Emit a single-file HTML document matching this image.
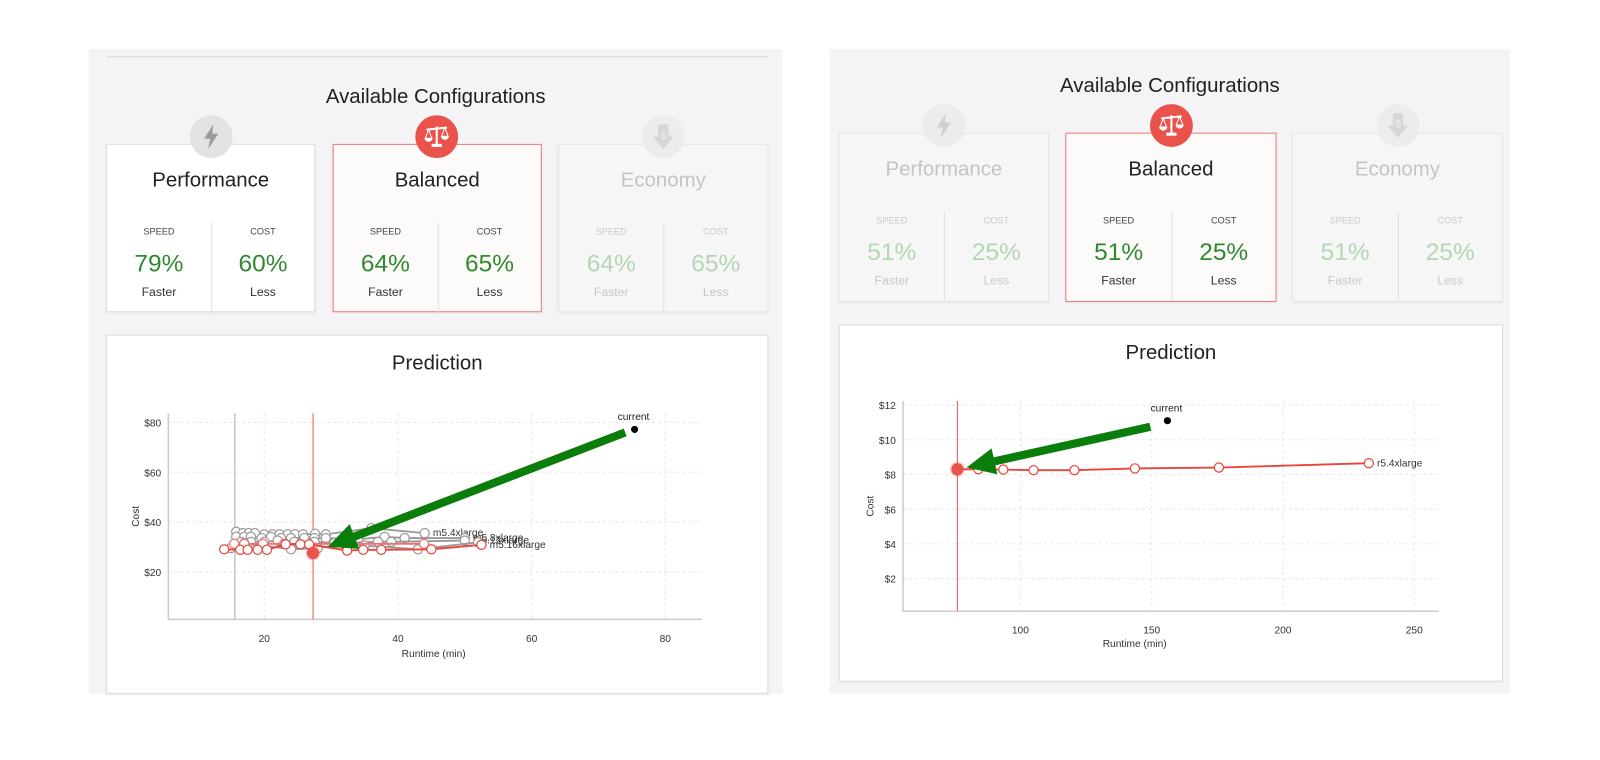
<!DOCTYPE html>
<html><head><meta charset="utf-8">
<style>
*{box-sizing:border-box;margin:0;padding:0}
body{width:1600px;height:745px;background:#fff;font-family:"Liberation Sans",sans-serif;position:relative;overflow:hidden}
#wrap{position:absolute;left:0;top:0;width:1600px;height:745px;transform:scale(1.0204);transform-origin:0 0}
.panel{position:absolute;background:#f4f4f6}
.abs{position:absolute}
.title{position:absolute;font-size:20px;color:#222;text-align:center;white-space:nowrap}
.card{position:absolute;background:#fff;border:1px solid #dcdcdc;box-shadow:0 1px 2px rgba(0,0,0,.08)}
.card.sel{background:#fdfafa;border-color:#ee7a74}
.card.dim{background:#f6f6f7;border-color:#e6e6e6}
.ctitle{position:absolute;left:0;right:0;top:24px;text-align:center;font-size:20px;color:#222}
.dim .ctitle{color:#c4c4c4}
.col{position:absolute;top:76px;width:50%;height:88px;text-align:center}
.col.r{left:50%;border-left:1px solid #e0e0e0}
.lab{font-size:9px;color:#444;margin-top:4px}
.pct{font-size:24px;color:#2f8a2f;margin-top:13px}
.sub{font-size:12px;color:#333;margin-top:6px}
.dim .lab,.dim .sub{color:#c8c8c8}
.dim .pct{color:#b5d6b5}
.icon{position:absolute;width:42px;height:42px;border-radius:50%;display:flex;align-items:center;justify-content:center}
.pred{position:absolute;background:#fff;border:1px solid #dcdcdc;box-shadow:0 1px 2px rgba(0,0,0,.08)}
svg text{font-family:"Liberation Sans",sans-serif}
</style></head><body>
<div id="wrap">
<div class="panel" style="left:87px;top:48px;width:680px;height:632px"></div>
<div class="abs" style="left:104px;top:55px;width:649px;height:1px;background:#dcdcdc"></div>
<div class="title" style="left:87px;width:680px;top:84px">Available Configurations</div>

<div class="panel" style="left:813px;top:48px;width:667px;height:632px"></div>
<div class="title" style="left:813px;width:667px;top:73px">Available Configurations</div>

<div class="card" style="left:104px;top:141px;width:205px;height:165px">
 <div class="ctitle">Performance</div>
 <div class="col"><div class="lab">SPEED</div><div class="pct">79%</div><div class="sub">Faster</div></div>
 <div class="col r"><div class="lab">COST</div><div class="pct">60%</div><div class="sub">Less</div></div>
</div>
<div class="card sel" style="left:326px;top:141px;width:205px;height:165px">
 <div class="ctitle">Balanced</div>
 <div class="col"><div class="lab">SPEED</div><div class="pct">64%</div><div class="sub">Faster</div></div>
 <div class="col r"><div class="lab">COST</div><div class="pct">65%</div><div class="sub">Less</div></div>
</div>
<div class="card dim" style="left:547px;top:141px;width:206px;height:165px">
 <div class="ctitle">Economy</div>
 <div class="col"><div class="lab">SPEED</div><div class="pct">64%</div><div class="sub">Faster</div></div>
 <div class="col r"><div class="lab">COST</div><div class="pct">65%</div><div class="sub">Less</div></div>
</div>
<div class="icon" style="left:186px;top:113px;background:#e2e2e4"><svg width="20" height="26" viewBox="0 0 20 26"><path d="M12 1 L3 15 H9 L7 25 L17 10 H11 Z" fill="#9a9a9a"/></svg></div>
<div class="icon" style="left:407px;top:113px;background:#e9534b"><svg width="26" height="24" viewBox="0 0 26 24"><g fill="#fff" stroke="#fff"><line x1="3" y1="5" x2="23" y2="3" stroke-width="2"/><line x1="13" y1="2" x2="13" y2="20" stroke-width="2"/><rect x="8" y="19" width="10" height="3" stroke="none"/><path d="M1 13 A4 4 0 0 0 9 13 Z" stroke="none"/><path d="M17 11 A4 4 0 0 0 25 11 Z" stroke="none"/><line x1="5" y1="5" x2="2" y2="13" stroke-width="1"/><line x1="5" y1="5" x2="8" y2="13" stroke-width="1"/><line x1="21" y1="3" x2="18" y2="11" stroke-width="1"/><line x1="21" y1="3" x2="24" y2="11" stroke-width="1"/></g></svg></div>
<div class="icon" style="left:629px;top:113px;background:#ececee"><svg width="22" height="26" viewBox="0 0 22 26"><path d="M6 1 H16 V13 H21 L11 25 L1 13 H6 Z" fill="#d6d6d6"/><text x="11" y="15" font-size="11" text-anchor="middle" fill="#ececee">$</text></svg></div>

<div class="card dim" style="left:822px;top:130px;width:206px;height:166px">
 <div class="ctitle">Performance</div>
 <div class="col"><div class="lab">SPEED</div><div class="pct">51%</div><div class="sub">Faster</div></div>
 <div class="col r"><div class="lab">COST</div><div class="pct">25%</div><div class="sub">Less</div></div>
</div>
<div class="card sel" style="left:1044px;top:130px;width:207px;height:166px">
 <div class="ctitle">Balanced</div>
 <div class="col"><div class="lab">SPEED</div><div class="pct">51%</div><div class="sub">Faster</div></div>
 <div class="col r"><div class="lab">COST</div><div class="pct">25%</div><div class="sub">Less</div></div>
</div>
<div class="card dim" style="left:1266px;top:130px;width:207px;height:166px">
 <div class="ctitle">Economy</div>
 <div class="col"><div class="lab">SPEED</div><div class="pct">51%</div><div class="sub">Faster</div></div>
 <div class="col r"><div class="lab">COST</div><div class="pct">25%</div><div class="sub">Less</div></div>
</div>
<div class="icon" style="left:904px;top:102px;background:#ececee"><svg width="20" height="26" viewBox="0 0 20 26"><path d="M12 1 L3 15 H9 L7 25 L17 10 H11 Z" fill="#d0d0d0"/></svg></div>
<div class="icon" style="left:1127px;top:102px;background:#e9534b"><svg width="26" height="24" viewBox="0 0 26 24"><g fill="#fff" stroke="#fff"><line x1="3" y1="5" x2="23" y2="3" stroke-width="2"/><line x1="13" y1="2" x2="13" y2="20" stroke-width="2"/><rect x="8" y="19" width="10" height="3" stroke="none"/><path d="M1 13 A4 4 0 0 0 9 13 Z" stroke="none"/><path d="M17 11 A4 4 0 0 0 25 11 Z" stroke="none"/><line x1="5" y1="5" x2="2" y2="13" stroke-width="1"/><line x1="5" y1="5" x2="8" y2="13" stroke-width="1"/><line x1="21" y1="3" x2="18" y2="11" stroke-width="1"/><line x1="21" y1="3" x2="24" y2="11" stroke-width="1"/></g></svg></div>
<div class="icon" style="left:1349px;top:102px;background:#ececee"><svg width="22" height="26" viewBox="0 0 22 26"><path d="M6 1 H16 V13 H21 L11 25 L1 13 H6 Z" fill="#d6d6d6"/><text x="11" y="15" font-size="11" text-anchor="middle" fill="#ececee">$</text></svg></div>

<div class="pred" style="left:104px;top:328px;width:649px;height:352px"></div>
<div class="title" style="left:104px;width:649px;top:345px">Prediction</div>
<div class="pred" style="left:822px;top:318px;width:651px;height:350px"></div>
<div class="title" style="left:822px;width:651px;top:335px">Prediction</div>

<svg id="chart" width="1600" height="745" style="position:absolute;left:0;top:0"></svg>
</div>
<script>
// ----- left chart data -----
const leftXTicks = [20, 40, 60, 80];
const leftYTicks = [20, 40, 60, 80];
const leftYTickLabels = ["$20", "$40", "$60", "$80"];
const leftGray1 = [[15.8,36],[16.8,35.5],[17.7,35.5],[18.6,35.5],[20,35],[21.2,35],[22.3,35],[23.5,35],[24.6,35],[25.8,35],[27.6,35.2],[29.2,35],[36,37.5],[44,35.5]];
const leftGray2 = [[15.8,34],[17,34],[18,34],[19.6,33.5],[21,34],[22.5,33.5],[24,33.5],[26,33.5],[27.5,33.5],[29.2,33.5],[34,33],[38,34],[41,33.5],[50,33.5]];
const leftGray3 = [[16.5,32],[18,32],[20,32],[22,32.5],[24.5,32],[27.5,32],[30.5,31.5],[37,32],[39,32],[50,32.5]];
const leftGray4 = [[15,29.5],[17,31.5],[24,29],[28,29.5],[32,31],[35,30.5],[43,29],[52,31.8]];
const leftRed = [[14,29],[16.4,28.8],[17.5,28.8],[19,28.8],[20.4,28.8],[23.2,31],[25.4,31],[26.7,31],[32.4,28.5],[34.8,28.8],[37.5,28.8],[45,29],[52.5,30.8]];
const leftRed2 = [[15.5,31.2],[17,31.2],[19.8,31.2],[23,31.2],[43.9,31.2]];
const leftLabels = ["m5.4xlarge","m5.8xlarge","m5.12xlarge","m5.16xlarge"];
const leftCurrent = [75.4, 77.2];
const leftSelected = [27.3, 27.5];
const leftVLines = [15.6, 27.3];
const leftArrow = [[74,76],[29.5,30]];

// ----- right chart data -----
const rightXTicks = [100, 150, 200, 250];
const rightYTicks = [2, 4, 6, 8, 10, 12];
const rightYTickLabels = ["$2","$4","$6","$8","$10","$12"];
const rightRed = [[76,8.3],[84,8.3],[93.5,8.28],[105,8.25],[120.6,8.25],[143.6,8.35],[175.6,8.4],[232.7,8.65]];
const rightLabel = "r5.4xlarge";
const rightCurrent = [156, 11.1];
const rightSelected = [76, 8.3];
const rightVLine = 76;
const rightArrow = [[149.5,10.75],[79.5,8.4]];

const NS = "http://www.w3.org/2000/svg";
const svg = document.getElementById('chart');
function mk(tag, attrs, parent){
  const e = document.createElementNS(NS, tag);
  for (const k in attrs) e.setAttribute(k, attrs[k]);
  (parent||svg).appendChild(e);
  return e;
}
function axisFns(x0,x1,px0,px1,y0,y1,py0,py1){
  return {x:v=>px0+(v-x0)*(px1-px0)/(x1-x0), y:v=>py0+(v-y0)*(py1-py0)/(y1-y0)};
}
function frame(g, s, L, R, T, B, xt, yt, ytl, costX, runX, runY){
  xt.forEach(t=>{
    const l = mk('line',{x1:s.x(t),x2:s.x(t),y1:T,y2:B,stroke:'#e8e8e8','stroke-dasharray':'3,3'},g);
    
    
    const tx = mk('text',{x:s.x(t),y:B+22,'font-size':10,'text-anchor':'middle',fill:'#333'},g);
    tx.textContent = t;
    
    
  });
  yt.forEach((t,i)=>{
    const l = mk('line',{x1:L,x2:R,y1:s.y(t),y2:s.y(t),stroke:'#e8e8e8','stroke-dasharray':'3,3'},g);
    
    
    const tx = mk('text',{x:L-7,y:s.y(t)+4,'font-size':10,'text-anchor':'end',fill:'#333'},g);
    tx.textContent = ytl[i];
    
    
  });
  const ax = mk('path',{d:`M${L} ${T} V${B} H${R}`,stroke:'#ccc',fill:'none','stroke-width':1.5},g);
  
  
  const yl = mk('text',{x:costX,y:(T+B)/2,'font-size':10,'text-anchor':'middle',fill:'#333',transform:`rotate(-90 ${costX} ${(T+B)/2})`},g);
  yl.textContent='Cost';
  
  
  const xl = mk('text',{x:runX,y:runY,'font-size':10,'text-anchor':'middle',fill:'#333'},g);
  xl.textContent='Runtime (min)';
  
  
}
function series(g, s, pts, color, name, label){
  const p = mk('polyline',{points:pts.map(d=>s.x(d[0])+','+s.y(d[1])).join(' '),fill:'none',stroke:color,'stroke-width':1.8},g);
  
  
  pts.forEach(d=>{
    const c = mk('circle',{cx:s.x(d[0]),cy:s.y(d[1]),r:4.5,fill:'#fff',stroke:color,'stroke-width':1.2},g);
    
    
  });
  if(label){
    const last = pts[pts.length-1];
    const t = mk('text',{x:s.x(last[0])+8,y:s.y(last[1])+3,'font-size':10,fill:'#333'},g);
    t.textContent = label;
    
    
  }
}
function arrow(g, s, a){
  const x1=s.x(a[0][0]), y1=s.y(a[0][1]), x2=s.x(a[1][0]), y2=s.y(a[1][1]);
  const dx=x2-x1, dy=y2-y1, len=Math.hypot(dx,dy), ux=dx/len, uy=dy/len, nx=-uy, ny=ux;
  const hl=28, hw=13, sw=4;
  const bx=x2-ux*hl, by=y2-uy*hl;
  const d=`M${x1+nx*sw} ${y1+ny*sw} L${bx+nx*sw} ${by+ny*sw} L${bx+nx*hw} ${by+ny*hw} L${x2} ${y2} L${bx-nx*hw} ${by-ny*hw} L${bx-nx*sw} ${by-ny*sw} L${x1-nx*sw} ${y1-ny*sw} Z`;
  const p = mk('path',{d, fill:'#0b7d0b'},g);
  
  
}
function point(g,s,pt,name,r,fill,stroke){
  const c = mk('circle',{cx:s.x(pt[0]),cy:s.y(pt[1]),r,fill,stroke:stroke||'none','stroke-width':3},g);
  
  
  return c;
}

// LEFT
{
  const g = mk('g',{});
  
  
  const L=165,R=688,T=405,B=607;
  const s = axisFns(20,80,259,652,0,80,609,414);
  frame(g,s,L,R,T,B,leftXTicks,leftYTicks,leftYTickLabels,136,425,644);
  leftVLines.forEach((v,i)=>{
    const l = mk('line',{x1:s.x(v),x2:s.x(v),y1:T,y2:B,stroke:i?'#e65a52':'#aaa','stroke-width':1},g);
    
    
  });
  series(g,s,leftGray1,'#999','m5-4xlarge',leftLabels[0]);
  series(g,s,leftGray2,'#999','m5-8xlarge',leftLabels[1]);
  series(g,s,leftGray3,'#999','m5-12xlarge',leftLabels[2]);
  series(g,s,leftGray4,'#999','m5-16xlarge-gray',null);
  series(g,s,leftRed2,'#f07070','m5-red-2',null);
  series(g,s,leftRed,'#e8453c','m5-16xlarge',leftLabels[3]);
  point(g,s,leftSelected,'selected-point',6,'#e8534b','rgba(232,83,75,0.25)');
  point(g,s,leftCurrent,'current-point',3.5,'#000');
  const t = mk('text',{x:s.x(leftCurrent[0])-1,y:s.y(leftCurrent[1])-9,'font-size':10,'text-anchor':'middle',fill:'#222'},g);
  t.textContent='current';
  
  
  arrow(g,s,leftArrow);
}
// RIGHT
{
  const g = mk('g',{});
  
  
  const L=885,R=1410,T=393,B=599;
  const s = axisFns(100,250,1000,1386,0,12,601,397);
  frame(g,s,L,R,T,B,rightXTicks,rightYTicks,rightYTickLabels,856,1112,634);
  const l = mk('line',{x1:s.x(rightVLine),x2:s.x(rightVLine),y1:T,y2:B,stroke:'#e65a52','stroke-width':1},g);
  
  
  series(g,s,rightRed,'#e8453c','r5-4xlarge',rightLabel);
  point(g,s,rightSelected,'selected-point',6,'#e8534b','rgba(232,83,75,0.25)');
  point(g,s,rightCurrent,'current-point',3.5,'#000');
  const t = mk('text',{x:s.x(rightCurrent[0])-1,y:s.y(rightCurrent[1])-9,'font-size':10,'text-anchor':'middle',fill:'#222'},g);
  t.textContent='current';
  
  
  arrow(g,s,rightArrow);
}
</script>
</body></html>
